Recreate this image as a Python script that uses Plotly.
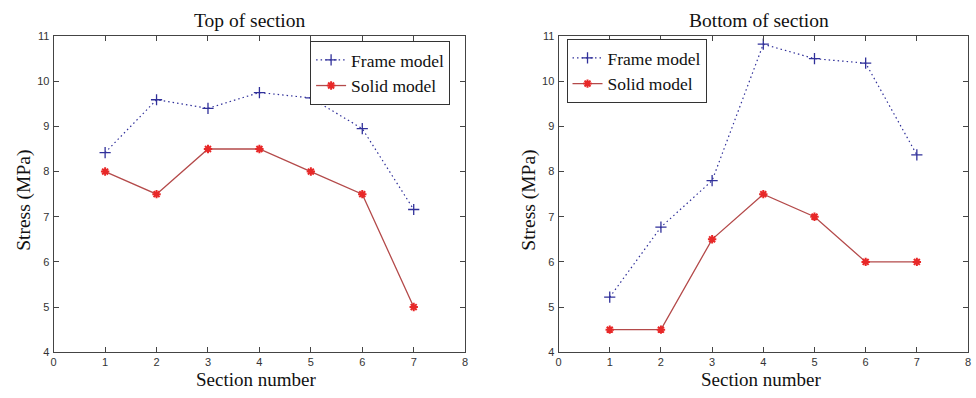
import plotly.graph_objects as go

sections = [1, 2, 3, 4, 5, 6, 7]
top_frame = [8.42, 9.59, 9.40, 9.75, 9.63, 8.95, 7.16]
top_solid = [8.0, 7.5, 8.5, 8.5, 8.0, 7.5, 5.0]
bottom_frame = [5.22, 6.77, 7.80, 10.82, 10.50, 10.40, 8.37]
bottom_solid = [4.5, 4.5, 6.5, 7.5, 7.0, 6.0, 6.0]
x_ticks = [0, 1, 2, 3, 4, 5, 6, 7, 8]
y_ticks = [4, 5, 6, 7, 8, 9, 10, 11]
titles = ["Top of section", "Bottom of section"]
series_names = ["Frame model", "Solid model"]

W, H = 976, 398
BLUE = "#30309a"
RED_LINE = "#b44a4a"
RED_MARK = "#e82828"
SERIF = "Liberation Serif, Times New Roman, serif"
SANS = "Liberation Sans, Arial, sans-serif"

fig = go.Figure()

for i, (fr, so) in enumerate([(top_frame, top_solid), (bottom_frame, bottom_solid)]):
    xa = "x" if i == 0 else "x2"
    ya = "y" if i == 0 else "y2"
    lg = "legend" if i == 0 else "legend2"
    fig.add_trace(go.Scatter(
        x=sections, y=fr, mode="lines+markers", name=series_names[0],
        line=dict(color=BLUE, width=1.2, dash="1.5px,3px"),
        marker=dict(symbol="cross-thin", size=8, line=dict(color=BLUE, width=1.3), color=BLUE),
        xaxis=xa, yaxis=ya, legend=lg))
    fig.add_trace(go.Scatter(
        x=sections, y=so, mode="lines+markers", name=series_names[1],
        line=dict(color=RED_LINE, width=1.3),
        marker=dict(symbol="asterisk-open", size=7, line=dict(color=RED_MARK, width=2), color=RED_MARK),
        xaxis=xa, yaxis=ya, legend=lg))

ytop = 1 - 31 / H
ybot = 1 - 357 / H
xdoms = [(51 / W, 465 / W), (559 / W, 971 / W)]

axis_common = dict(
    showline=True, linecolor="#444", linewidth=1, mirror="allticks",
    ticks="inside", ticklen=5, tickcolor="#444", tickwidth=1,
    showgrid=False, zeroline=False,
    tickfont=dict(family=SANS, size=11, color="#333"),
)

layout = dict(
    width=W, height=H, margin=dict(l=0, r=0, t=0, b=0),
    paper_bgcolor="white", plot_bgcolor="white", showlegend=True,
)
for i, dom in enumerate(xdoms):
    sfx = "" if i == 0 else "2"
    layout["xaxis" + sfx] = dict(axis_common, domain=list(dom), range=[0, 8],
                                 tickvals=x_ticks, anchor="y" + sfx, ticklabelstandoff=0)
    layout["yaxis" + sfx] = dict(axis_common, domain=[ybot, ytop], range=[4, 11],
                                 tickvals=y_ticks, anchor="x" + sfx, ticklabelstandoff=1)

legend_common = dict(
    bgcolor="white", bordercolor="#333", borderwidth=1,
    font=dict(family=SERIF, size=17.5, color="#111"),
    tracegroupgap=0, itemwidth=30, yanchor="top",
)
layout["legend"] = dict(legend_common, x=309 / W, xanchor="left", y=1 - 36 / H)
layout["legend2"] = dict(legend_common, x=567 / W, xanchor="left", y=1 - 34 / H)
fig.update_layout(**layout)

ann = []
title_x = [249, 761]
xlabel_x = [255, 763]
ylabel_x = [21, 529]
for i in range(2):
    ann.append(dict(text=titles[i], x=title_x[i] / W, y=1 - 15 / H, xref="paper", yref="paper",
                    showarrow=False, font=dict(family=SERIF, size=19.5, color="#111"),
                    xanchor="center", yanchor="middle"))
    ann.append(dict(text="Section number", x=xlabel_x[i] / W, y=1 - 385 / H, xref="paper", yref="paper",
                    showarrow=False, font=dict(family=SERIF, size=19, color="#111"),
                    xanchor="center", yanchor="middle"))
    ann.append(dict(text="Stress (MPa)", x=ylabel_x[i] / W, y=1 - 200 / H, xref="paper", yref="paper",
                    showarrow=False, textangle=-90, font=dict(family=SERIF, size=19.5, color="#111"),
                    xanchor="center", yanchor="middle"))
fig.update_layout(annotations=ann)

fig.write_html("out.html", config={"displayModeBar": False},
               post_script="document.body.style.margin='0';document.body.style.overflow='hidden';")
